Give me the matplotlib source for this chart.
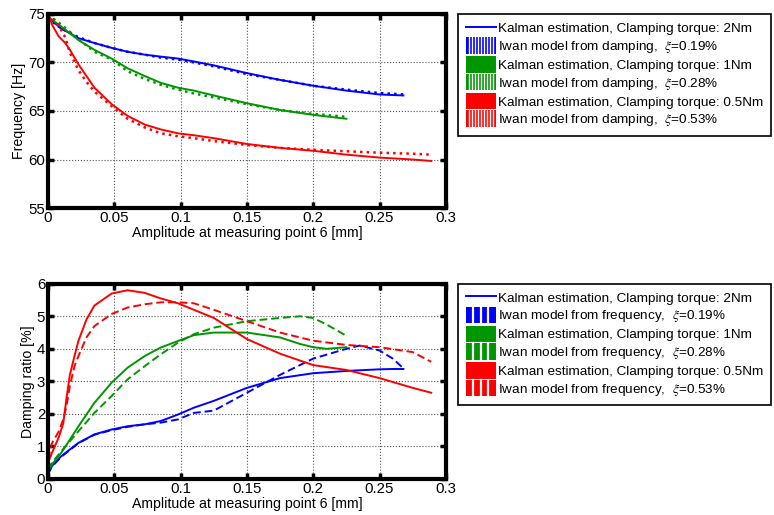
import numpy as np
import matplotlib
matplotlib.use("Agg")
import matplotlib.pyplot as plt
from matplotlib.patches import Rectangle
from matplotlib.lines import Line2D
from matplotlib.legend_handler import HandlerBase
from matplotlib.ticker import FormatStrFormatter

plt.rcParams['font.family'] = ['Liberation Sans', 'DejaVu Sans']
plt.rcParams['mathtext.fontset'] = 'stix'
plt.rcParams['font.size'] = 10.2

BLUE = '#0000ff'
GREEN = '#009600'
RED = '#ff0000'

# ---- frequency vs amplitude (top) ----
f_blue_x = [0, 0.003, 0.01, 0.023, 0.035, 0.048, 0.06, 0.073, 0.085, 0.098, 0.11, 0.125, 0.15, 0.175, 0.2, 0.225, 0.25, 0.268]
f_blue_kal = [74.8, 74.3, 73.5, 72.5, 72.0, 71.5, 71.1, 70.8, 70.6, 70.4, 70.1, 69.7, 68.9, 68.2, 67.6, 67.1, 66.7, 66.6]
f_blue_iwan = [74.6, 74.2, 73.5, 72.6, 72.0, 71.5, 71.1, 70.8, 70.5, 70.3, 70.0, 69.6, 68.8, 68.2, 67.6, 67.2, 66.85, 66.7]

f_green_x = [0, 0.003, 0.01, 0.023, 0.035, 0.048, 0.06, 0.073, 0.085, 0.098, 0.11, 0.125, 0.15, 0.175, 0.2, 0.225]
f_green_kal = [74.7, 74.4, 73.7, 72.3, 71.3, 70.4, 69.4, 68.6, 67.9, 67.4, 67.1, 66.6, 65.8, 65.1, 64.6, 64.2]
f_green_iwan = [74.9, 74.6, 73.9, 72.4, 71.1, 70.3, 69.1, 68.3, 67.7, 67.2, 66.8, 66.4, 65.7, 65.1, 64.7, 64.4]

f_red_x = [0, 0.003, 0.008, 0.013, 0.0165, 0.023, 0.029, 0.035, 0.048, 0.06, 0.073, 0.085, 0.098, 0.11, 0.125, 0.15, 0.175, 0.2, 0.225, 0.25, 0.275, 0.289]
f_red_kal = [75.0, 73.9, 72.7, 72.0, 71.3, 69.8, 68.6, 67.4, 65.7, 64.5, 63.6, 63.1, 62.7, 62.5, 62.2, 61.6, 61.2, 60.9, 60.5, 60.2, 60.0, 59.85]
f_red_iwan = [75.0, 74.6, 73.8, 72.6, 71.0, 69.2, 68.0, 67.0, 65.5, 64.2, 63.3, 62.7, 62.4, 62.2, 61.9, 61.5, 61.2, 61.0, 60.85, 60.7, 60.6, 60.5]

# ---- damping ratio vs amplitude (bottom) ----
d_blue_x = [0, 0.003, 0.01, 0.023, 0.035, 0.048, 0.06, 0.073, 0.085, 0.098, 0.11, 0.125, 0.15, 0.175, 0.2, 0.225, 0.235, 0.25, 0.26, 0.268]
d_blue_kal = [0.18, 0.4, 0.7, 1.11, 1.37, 1.52, 1.62, 1.68, 1.78, 1.98, 2.19, 2.4, 2.8, 3.1, 3.25, 3.32, 3.34, 3.37, 3.38, 3.38]
d_blue_iwan = [0.15, 0.38, 0.68, 1.1, 1.36, 1.5, 1.6, 1.68, 1.73, 1.83, 2.03, 2.1, 2.65, 3.2, 3.7, 4.0, 4.1, 3.95, 3.7, 3.4]

d_green_x = [0, 0.003, 0.01, 0.023, 0.035, 0.048, 0.06, 0.073, 0.085, 0.098, 0.11, 0.125, 0.15, 0.175, 0.19, 0.2, 0.21, 0.225]
d_green_kal = [0.24, 0.45, 0.8, 1.62, 2.34, 2.96, 3.42, 3.78, 4.04, 4.24, 4.42, 4.5, 4.5, 4.35, 4.15, 4.05, 4.0, 4.05]
d_green_iwan = [0.29, 0.5, 0.85, 1.47, 2.03, 2.55, 3.06, 3.47, 3.83, 4.19, 4.45, 4.65, 4.85, 4.95, 5.0, 4.95, 4.75, 4.4]

d_red_x = [0, 0.003, 0.008, 0.0115, 0.014, 0.0165, 0.02, 0.023, 0.029, 0.035, 0.048, 0.06, 0.073, 0.085, 0.098, 0.11, 0.125, 0.15, 0.175, 0.2, 0.225, 0.25, 0.275, 0.289]
d_red_kal = [0.5, 0.8, 1.27, 1.7, 2.5, 3.2, 3.78, 4.25, 4.9, 5.33, 5.7, 5.8, 5.72, 5.55, 5.4, 5.2, 4.95, 4.3, 3.85, 3.5, 3.35, 3.1, 2.8, 2.65]
d_red_iwan = [0.6, 1.1, 1.45, 1.83, 2.24, 2.86, 3.47, 3.78, 4.35, 4.7, 5.07, 5.27, 5.37, 5.43, 5.43, 5.4, 5.2, 4.85, 4.5, 4.25, 4.12, 4.05, 3.9, 3.6]

xticks = [0, 0.05, 0.1, 0.15, 0.2, 0.25, 0.3]
f_yticks = [55, 60, 65, 70, 75]
d_yticks = [0, 1, 2, 3, 4, 5, 6]

top_labels = ["Kalman estimation, Clamping torque: 2Nm",
              "Iwan model from damping,  $\\xi$=0.19%",
              "Kalman estimation, Clamping torque: 1Nm",
              "Iwan model from damping,  $\\xi$=0.28%",
              "Kalman estimation, Clamping torque: 0.5Nm",
              "Iwan model from damping,  $\\xi$=0.53%"]
bot_labels = [s.replace("from damping", "from frequency") for s in top_labels]


class StripeHandler(HandlerBase):
    # filled box with white vertical stripes, like the matlab legend glitch
    def __init__(self, n, lw):
        super().__init__()
        self.n = n
        self.lw = lw

    def create_artists(self, legend, orig_handle, xdescent, ydescent,
                       width, height, fontsize, trans):
        x0, y0 = -xdescent, -ydescent - 0.18 * height
        h = height * 1.36
        arts = [Rectangle((x0, y0), width, h, facecolor=orig_handle.get_facecolor(),
                          edgecolor='none', transform=trans)]
        for i in range(1, self.n):
            xx = x0 + width * i / self.n
            arts.append(Line2D([xx, xx], [y0, y0 + h], color='white',
                               lw=self.lw, transform=trans))
        return arts


fig = plt.figure(figsize=(7.74, 5.15), dpi=100)
ax1 = fig.add_axes([0.062, 0.596, 0.514, 0.377])
ax2 = fig.add_axes([0.062, 0.070, 0.514, 0.379])

ax1.plot(f_blue_x, f_blue_kal, color=BLUE, lw=1.4)
ax1.plot(f_blue_x, f_blue_iwan, color=BLUE, lw=1.8, ls=':')
ax1.plot(f_green_x, f_green_kal, color=GREEN, lw=1.4)
ax1.plot(f_green_x, f_green_iwan, color=GREEN, lw=1.8, ls=':')
ax1.plot(f_red_x, f_red_kal, color=RED, lw=1.4)
ax1.plot(f_red_x, f_red_iwan, color=RED, lw=1.8, ls=':')
ax1.set_ylim(55, 75)
ax1.set_yticks(f_yticks)
ax1.set_ylabel("Frequency [Hz]", labelpad=1.5)

ax2.plot(d_blue_x, d_blue_kal, color=BLUE, lw=1.4)
ax2.plot(d_blue_x, d_blue_iwan, color=BLUE, lw=1.4, ls='--', dashes=(4, 2))
ax2.plot(d_green_x, d_green_kal, color=GREEN, lw=1.4)
ax2.plot(d_green_x, d_green_iwan, color=GREEN, lw=1.4, ls='--', dashes=(4, 2))
ax2.plot(d_red_x, d_red_kal, color=RED, lw=1.4)
ax2.plot(d_red_x, d_red_iwan, color=RED, lw=1.4, ls='--', dashes=(4, 2))
ax2.set_ylim(0, 6)
ax2.set_yticks(d_yticks)
ax2.set_ylabel("Damping ratio [%]", labelpad=1.5)

for ax in (ax1, ax2):
    ax.set_xlim(0, 0.3)
    ax.set_xticks(xticks)
    ax.xaxis.set_major_formatter(FormatStrFormatter('%g'))
    ax.set_xlabel("Amplitude at measuring point 6 [mm]", labelpad=1)
    ax.grid(True, ls=':', color='#555555', lw=0.8)
    ax.tick_params(direction='in', length=4, width=2.5, top=True, right=True,
                   pad=2, labelsize=10.8)
    for sp in ax.spines.values():
        sp.set_linewidth(3)

# legends
for ax, labels, n, slw, anchor in ((ax1, top_labels, 10, 1.0, (0.592, 0.972)),
                                   (ax2, bot_labels, 4, 1.6, (0.592, 0.449))):
    h_line = Line2D([], [], color=BLUE, lw=1.4)
    h_b = Rectangle((0, 0), 1, 1, facecolor=BLUE)
    h_g = Rectangle((0, 0), 1, 1, facecolor=GREEN)
    h_gs = Rectangle((0, 0), 1, 1, facecolor=GREEN)
    h_r = Rectangle((0, 0), 1, 1, facecolor=RED)
    h_rs = Rectangle((0, 0), 1, 1, facecolor=RED)
    hmap = {h_b: StripeHandler(n, slw), h_g: StripeHandler(0, slw),
            h_gs: StripeHandler(n, slw), h_r: StripeHandler(0, slw),
            h_rs: StripeHandler(n, slw)}
    leg = fig.legend([h_line, h_b, h_g, h_gs, h_r, h_rs], labels,
                     loc='upper left', bbox_to_anchor=anchor,
                     bbox_transform=fig.transFigure, handler_map=hmap,
                     handlelength=2.25, handleheight=1.0, handletextpad=0.18,
                     labelspacing=0.26, borderpad=0.55, borderaxespad=0,
                     fancybox=False, framealpha=1, edgecolor='black',
                     fontsize=9.7)
    leg.get_frame().set_linewidth(1.2)

fig.savefig("out.png", dpi=100)
